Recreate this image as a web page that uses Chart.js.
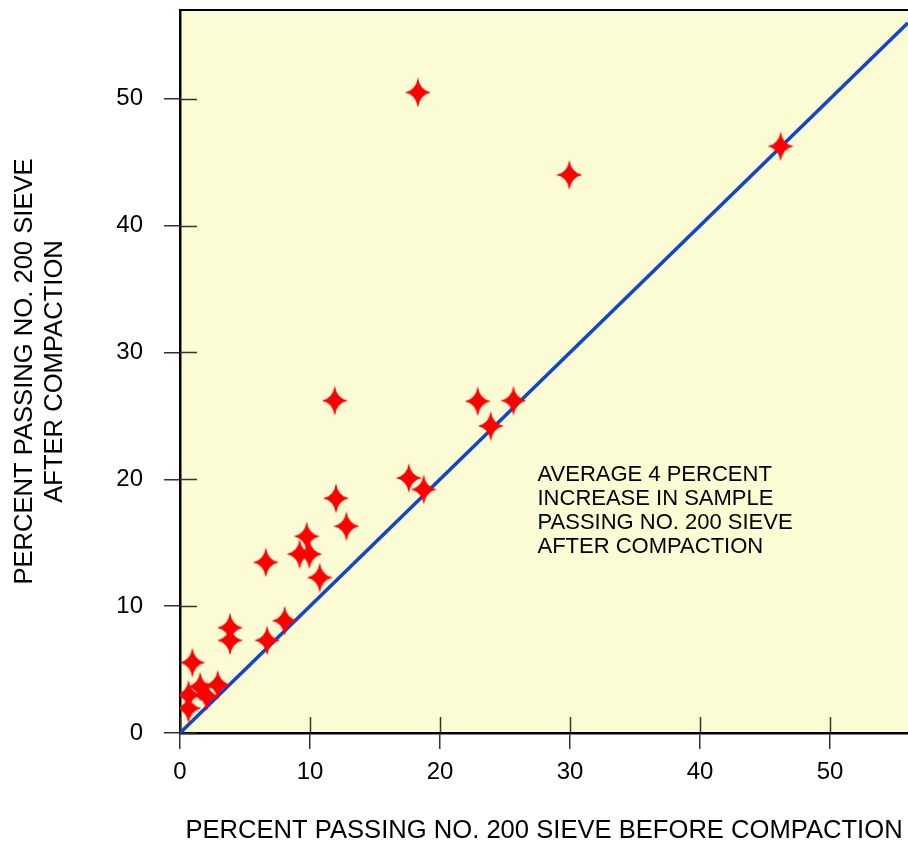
<!DOCTYPE html>
<html>
<head>
<meta charset="utf-8">
<title>Passing No. 200 sieve before / after compaction</title>
<script src="https://cdn.jsdelivr.net/npm/chart.js@4.4.1/dist/chart.umd.min.js"></script>
<style>
    html, body { margin: 0; padding: 0; background: #ffffff; }
    #wrap { width: 908px; height: 846px; }
</style>
</head>
<body>
<div id="wrap"><canvas id="sieveChart" width="908" height="846"></canvas></div>
<script>
// percent passing No. 200 sieve, before (x) and after (y) compaction
const beforeValues = [18.3, 29.95, 46.2, 11.9, 22.9, 25.65, 23.9, 17.6, 18.75, 12.0, 12.8, 9.75, 9.2, 9.95, 6.6, 10.75, 3.85, 3.85, 8.05, 6.7, 0.95, 2.9, 1.55, 0.65, 2.05, 0.65];
const afterValues  = [50.5, 44.0, 46.25, 26.2, 26.15, 26.2, 24.2, 20.1, 19.2, 18.5, 16.3, 15.5, 14.1, 14.1, 13.45, 12.25, 8.3, 7.3, 8.85, 7.3, 5.55, 3.8, 3.65, 3.0, 2.9, 1.95];

// line of equal values
const equalityX = [0, 56];
const equalityY = [0, 56];

const tickValues = [0, 10, 20, 30, 40, 50];
const xMax = 56;
const yMax = 57;

const xTitle = 'PERCENT PASSING NO. 200 SIEVE BEFORE COMPACTION';
const yTitle = ['PERCENT PASSING NO. 200 SIEVE', 'AFTER COMPACTION'];
const noteLines = ['AVERAGE 4 PERCENT', 'INCREASE IN SAMPLE', 'PASSING NO. 200 SIEVE', 'AFTER COMPACTION'];
const notePos = [27.5, 20.35];

const FONT = 'Arial, "Liberation Sans", sans-serif';

// four pointed red star used as the marker
function makeStar(w, h, color) {
    const c = document.createElement('canvas');
    c.width = w;
    c.height = h;
    const g = c.getContext('2d');
    const cx = w / 2, cy = h / 2;
    const rx = w / 2, ry = h / 2;
    const k = 0.15;
    g.fillStyle = color;
    g.beginPath();
    g.moveTo(cx, cy - ry);
    g.quadraticCurveTo(cx + rx * k, cy - ry * k, cx + rx, cy);
    g.quadraticCurveTo(cx + rx * k, cy + ry * k, cx, cy + ry);
    g.quadraticCurveTo(cx - rx * k, cy + ry * k, cx - rx, cy);
    g.quadraticCurveTo(cx - rx * k, cy - ry * k, cx, cy - ry);
    g.closePath();
    g.fill();
    return c;
}

const starMarker = makeStar(26, 30, '#ff0000');

const plotDecor = {
    id: 'plotDecor',
    beforeDraw(chart) {
        const { ctx, chartArea: a } = chart;
        ctx.save();
        ctx.fillStyle = '#fcfcd4';
        ctx.fillRect(a.left, a.top, a.right - a.left, a.bottom - a.top);
        ctx.restore();
    },
    beforeDatasetsDraw(chart) {
        const { ctx, chartArea: a, scales } = chart;
        ctx.save();
        // top frame line
        ctx.strokeStyle = '#000000';
        ctx.lineWidth = 2;
        ctx.beginPath();
        ctx.moveTo(a.left, a.top);
        ctx.lineTo(a.right, a.top);
        ctx.stroke();
        // tick marks continue inside the plot
        ctx.strokeStyle = '#333333';
        ctx.lineWidth = 1.5;
        ctx.beginPath();
        scales.x.ticks.forEach(t => {
            const px = Math.round(scales.x.getPixelForValue(t.value)) + 0.5;
            ctx.moveTo(px, a.bottom);
            ctx.lineTo(px, a.bottom - 16);
        });
        scales.y.ticks.forEach(t => {
            const py = Math.round(scales.y.getPixelForValue(t.value)) + 0.5;
            ctx.moveTo(a.left, py);
            ctx.lineTo(a.left + 17, py);
        });
        ctx.stroke();
        ctx.restore();
    },
    afterDraw(chart) {
        const { ctx, scales } = chart;
        const x0 = scales.x.getPixelForValue(notePos[0]);
        const y0 = scales.y.getPixelForValue(notePos[1]);
        ctx.save();
        ctx.fillStyle = '#000000';
        ctx.font = '22px ' + FONT;
        ctx.textAlign = 'left';
        ctx.textBaseline = 'middle';
        noteLines.forEach((line, i) => {
            ctx.fillText(line, x0, y0 + i * 24);
        });
        ctx.restore();
    }
};

const ctx = document.getElementById('sieveChart').getContext('2d');
const sieveChart = new Chart(ctx, {
    type: 'scatter',
    data: {
        datasets: [
            {
                label: 'Samples',
                data: beforeValues.map((v, i) => ({ x: v, y: afterValues[i] })),
                pointStyle: starMarker,
                pointRadius: 13,
                pointHoverRadius: 13,
                backgroundColor: '#ff0000',
                borderColor: '#ff0000'
            },
            {
                type: 'line',
                label: 'Equal',
                data: equalityX.map((v, i) => ({ x: v, y: equalityY[i] })),
                borderColor: '#1446c6',
                borderWidth: 3.5,
                pointRadius: 0,
                fill: false,
                tension: 0
            }
        ]
    },
    options: {
        responsive: false,
        animation: false,
        layout: { autoPadding: false, padding: { top: 10, right: 0, bottom: 0, left: 0 } },
        plugins: {
            legend: { display: false },
            tooltip: { enabled: false }
        },
        scales: {
            x: {
                type: 'linear',
                min: 0,
                max: xMax,
                afterBuildTicks: s => { s.ticks = tickValues.map(v => ({ value: v })); },
                afterFit: s => { s.height = 113; s.paddingLeft = 0; s.paddingRight = 0; },
                grid: { drawOnChartArea: false, drawTicks: true, tickLength: 16, color: '#333333', lineWidth: 1.5 },
                border: { display: true, color: '#000000', width: 2.5 },
                ticks: {
                    color: '#000000',
                    font: { family: FONT, size: 24 },
                    padding: 9,
                    maxRotation: 0
                },
                title: {
                    display: true,
                    text: xTitle,
                    color: '#000000',
                    font: { family: FONT, size: 25.6, lineHeight: 1.16 },
                    padding: { top: 0, bottom: 0 }
                }
            },
            y: {
                type: 'linear',
                min: 0,
                max: yMax,
                afterBuildTicks: s => { s.ticks = tickValues.map(v => ({ value: v })); },
                afterFit: s => { s.width = 180; s.paddingTop = 0; s.paddingBottom = 0; },
                grid: { drawOnChartArea: false, drawTicks: true, tickLength: 16, color: '#333333', lineWidth: 1.5 },
                border: { display: true, color: '#000000', width: 2.5 },
                ticks: {
                    color: '#000000',
                    font: { family: FONT, size: 24 },
                    padding: 21
                },
                title: {
                    display: true,
                    text: yTitle,
                    color: '#000000',
                    font: { family: FONT, size: 25.6, lineHeight: 1.16 },
                    padding: { top: 10, bottom: 0 }
                }
            }
        }
    },
    plugins: [plotDecor]
});
</script>
</body>
</html>
